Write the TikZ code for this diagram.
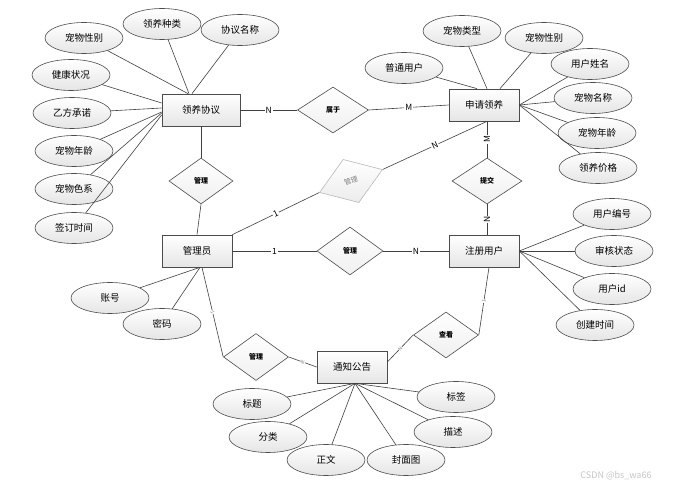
\documentclass[tikz,border=0pt]{standalone}
\usepackage{fontspec}
\setmainfont{Noto Sans CJK SC}
\usetikzlibrary{shapes.geometric,calc}
\begin{document}
\begin{tikzpicture}[x=1pt,y=-1pt,
  ent/.style={draw=gray!60!black, line width=0.7pt, top color=white, bottom color=gray!20, minimum width=70pt, minimum height=32pt, inner sep=0pt, font=\fontsize{9.5}{10}\selectfont},
  attr/.style={ellipse, draw=gray!60!black, line width=0.6pt, top color=white, bottom color=gray!20, minimum width=78pt, minimum height=31pt, inner sep=0pt, font=\fontsize{9.5}{10}\selectfont},
  rel/.style={diamond, draw=gray!60!black, line width=0.6pt, top color=white, bottom color=gray!12, minimum width=66pt, minimum height=47pt, inner sep=0pt, font=\fontsize{7}{8}\selectfont\bfseries},
  ln/.style={draw=black!75, line width=0.6pt},
  lab/.style={fill=white, inner sep=0.8pt, font=\fontsize{8.5}{9}\selectfont},
  tinylab/.style={fill=white, inner sep=0.3pt, font=\fontsize{5}{5}\selectfont, text=gray}
]
\useasboundingbox[fill=white] (0,0) rectangle (673,489);

% entities
\node[ent, minimum width=78pt] (lyxy) at (201,110) {领养协议};
\node[ent] (sqly) at (484,105) {申请领养};
\node[ent] (gly) at (197,251) {管理员};
\node[ent] (zcyh) at (484,251) {注册用户};
\node[ent] (tzgg) at (352,367) {通知公告};

% relations
\node[rel, minimum width=71pt, minimum height=46pt] (sy) at (333,110) {属于};
\node[rel, minimum width=64pt, minimum height=46pt] (gl1) at (201,181) {管理};
\node[rel, minimum width=67pt, minimum height=46pt, rotate=20, draw=gray!55, top color=white, bottom color=gray!15, text=gray, font=\fontsize{7}{8}\selectfont] (gl2) at (351,181) {管理};
\node[rel, minimum width=70pt, minimum height=46pt] (tj) at (487,181) {提交};
\node[rel, minimum width=66pt, minimum height=48pt] (gl3) at (350,251) {管理};
\node[rel, minimum width=65pt, minimum height=47pt] (gl4) at (256,357) {管理};
\node[rel, minimum width=65pt, minimum height=46pt] (ck) at (446,335) {查看};

% attributes of 领养协议
\node[attr] (a1) at (84,38) {宠物性别};
\node[attr] (a2) at (162,24) {领养种类};
\node[attr] (a3) at (240,30) {协议名称};
\node[attr] (a4) at (71,75) {健康状况};
\node[attr] (a5) at (72,113) {乙方承诺};
\node[attr] (a6) at (74,151) {宠物年龄};
\node[attr] (a7) at (74,189) {宠物色系};
\node[attr] (a8) at (74,228) {签订时间};

% attributes of 申请领养
\node[attr] (b1) at (404,68) {普通用户};
\node[attr] (b2) at (462,31) {宠物类型};
\node[attr] (b3) at (544,38) {宠物性别};
\node[attr] (b4) at (590,64) {用户姓名};
\node[attr] (b5) at (593,98) {宠物名称};
\node[attr] (b6) at (597,133) {宠物年龄};
\node[attr] (b7) at (598,168) {领养价格};

% attributes of 注册用户
\node[attr] (c1) at (612,214) {用户编号};
\node[attr] (c2) at (614,251) {审核状态};
\node[attr] (c3) at (612,289) {用户id};
\node[attr] (c4) at (595,325) {创建时间};

% attributes of 管理员
\node[attr] (d1) at (110,298) {账号};
\node[attr] (d2) at (162,324) {密码};

% attributes of 通知公告
\node[attr] (e1) at (252,404) {标题};
\node[attr] (e2) at (268,437) {分类};
\node[attr] (e3) at (326,460) {正文};
\node[attr] (e4) at (406,460) {封面图};
\node[attr] (e5) at (456,397) {标签};
\node[attr] (e6) at (453,432) {描述};

% attribute lines
\draw[ln] (a1) -- ([xshift=-13pt]lyxy.north);
\draw[ln] (a2) -- ([xshift=-12pt]lyxy.north);
\draw[ln] (a3) -- ([xshift=-9pt]lyxy.north);
\draw[ln] (a4) -- ([yshift=7pt]lyxy.west);
\draw[ln] (a5) -- ([yshift=2pt]lyxy.west);
\draw[ln] (a6) -- ([yshift=-2pt]lyxy.west);
\draw[ln] (a7) -- ([yshift=-3pt]lyxy.west);
\draw[ln] (a8) -- ([yshift=-5pt]lyxy.west);

\draw[ln] (b1) -- ([xshift=-7pt]sqly.north);
\draw[ln] (b2) -- ([xshift=3pt]sqly.north);
\draw[ln] (b3) -- ([xshift=16pt]sqly.north);
\draw[ln] (b4) -- (sqly.east);
\draw[ln] (b5) -- (sqly.east);
\draw[ln] (b6) -- (sqly.east);
\draw[ln] (b7) -- (sqly.east);

\draw[ln] (c1) -- (zcyh.east);
\draw[ln] (c2) -- (zcyh.east);
\draw[ln] (c3) -- (zcyh.east);
\draw[ln] (c4) -- (zcyh.east);

\draw[ln] (d1) -- ([xshift=3pt]gly.south);
\draw[ln] (d2) -- ([xshift=3pt]gly.south);

\draw[ln] (e1) -- ([xshift=3pt]tzgg.south);
\draw[ln] (e2) -- ([xshift=3pt]tzgg.south);
\draw[ln] (e3) -- ([xshift=3pt]tzgg.south);
\draw[ln] (e4) -- ([xshift=3pt]tzgg.south);
\draw[ln] (e5) -- ([xshift=3pt]tzgg.south);
\draw[ln] (e6) -- ([xshift=3pt]tzgg.south);

% relationship lines
\draw[ln] (lyxy.east) -- node[lab]{N} (sy.west);
\draw[ln] (sy.east) -- node[lab]{M} (sqly.west);
\draw[ln] (gl1.north) -- (lyxy.south);
\draw[ln] (gly.north) -- (gl1.south);
\draw[ln] (gly.north east) -- node[lab, sloped]{1} (gl2.west);
\draw[ln] (gl2.east) -- node[lab, sloped]{N} ([xshift=3pt]sqly.south);
\draw[ln] ([xshift=3pt]sqly.south) -- node[lab, rotate=90]{M} (tj.north);
\draw[ln] (tj.south) -- node[lab, rotate=90]{N} ([xshift=3pt]zcyh.north);
\draw[ln] (gly.east) -- node[lab]{1} (gl3.west);
\draw[ln] (gl3.east) -- node[lab]{N} (zcyh.west);
\draw[ln] ([xshift=5pt]gly.south) -- node[tinylab, sloped]{1} (gl4.west);
\draw[ln] (gl4.east) -- node[tinylab, sloped]{N} (tzgg.west);
\draw[ln] ([xshift=5pt]zcyh.south) -- node[tinylab, sloped]{1} (ck.east);
\draw[ln] (ck.west) -- node[tinylab, sloped]{N} ([yshift=5pt]tzgg.east);

% watermark
\node[text=gray!45, font=\fontsize{9}{10}\selectfont] (wm) at (616,476) {CSDN @bs\_wa66};
\end{tikzpicture}
\end{document}
